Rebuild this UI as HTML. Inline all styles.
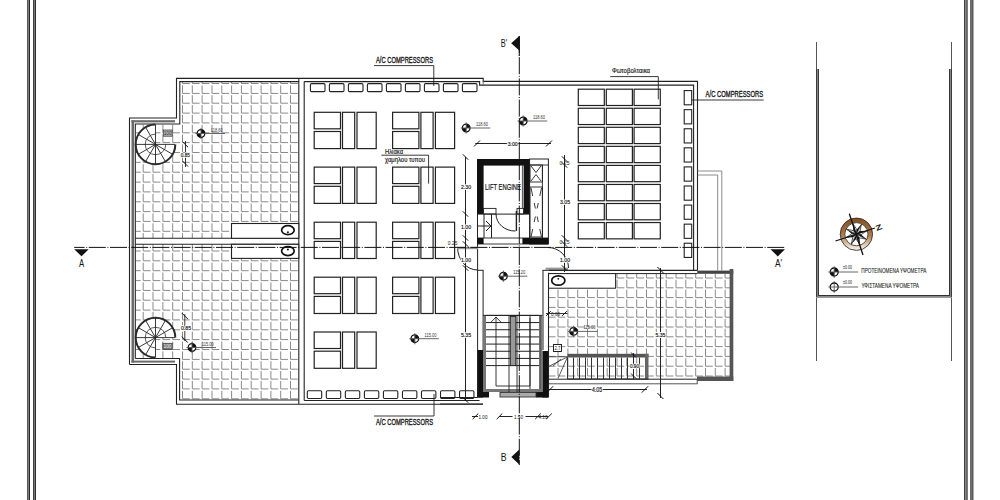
<!DOCTYPE html>
<html><head><meta charset="utf-8"><title>Floor plan</title>
<style>html,body{margin:0;padding:0;background:#fff;width:1000px;height:500px;overflow:hidden}
svg{display:block;font-family:"Liberation Sans",sans-serif}</style></head>
<body><svg width="1000" height="500" viewBox="0 0 1000 500">
<rect x="27" y="0" width="1" height="500" fill="#555"/>
<rect x="28" y="0" width="1" height="500" fill="#808080"/>
<rect x="29" y="0" width="1" height="500" fill="#2a2a2a"/>
<rect x="33" y="0" width="1" height="500" fill="#404040"/>
<rect x="34" y="0" width="1" height="500" fill="#787878"/>
<rect x="35" y="0" width="1" height="500" fill="#2e2e2e"/>
<rect x="964" y="0" width="1" height="500" fill="#3a3a3a"/>
<rect x="965" y="0" width="1" height="500" fill="#888"/>
<rect x="966" y="0" width="1" height="500" fill="#666"/>
<rect x="967" y="0" width="1" height="500" fill="#7a7a7a"/>
<rect x="970" y="0" width="1" height="500" fill="#6a6a6a"/>
<rect x="971" y="0" width="1" height="500" fill="#707070"/>
<rect x="972" y="0" width="1" height="500" fill="#5c5c5c"/>
<rect x="973" y="0" width="1" height="500" fill="#aaa"/>
<defs><clipPath id="tl"><path d="M136,124H180V82H298.5V238H136Z M136,244H298.5V400H180V358H136Z"/></clipPath><clipPath id="tr"><path d="M549,274H730V378H549Z"/></clipPath></defs>
<path d="M133.4,75.5V83.5H140.7M133.4,85.4V93.4H140.7M133.4,95.2V103.2H140.7M133.4,105.1V113.1H140.7M133.4,114.9V122.9H140.7M133.4,124.8V132.8H140.7M133.4,134.6V142.6H140.7M133.4,144.5V152.5H140.7M133.4,154.3V162.3H140.7M133.4,164.2V172.2H140.7M133.4,174.1V182.1H140.7M133.4,183.9V191.9H140.7M133.4,193.8V201.8H140.7M133.4,203.6V211.6H140.7M133.4,213.4V221.4H140.7M133.4,223.3V231.3H140.7M133.4,233.1V241.1H140.7M133.4,243.0V251.0H140.7M133.4,252.8V260.8H140.7M133.4,262.7V270.7H140.7M133.4,272.6V280.6H140.7M133.4,282.4V290.4H140.7M133.4,292.2V300.2H140.7M133.4,302.1V310.1H140.7M133.4,311.9V319.9H140.7M133.4,321.8V329.8H140.7M133.4,331.6V339.6H140.7M133.4,341.5V349.5H140.7M133.4,351.4V359.4H140.7M133.4,361.2V369.2H140.7M133.4,371.1V379.1H140.7M133.4,380.9V388.9H140.7M133.4,390.8V398.8H140.7M143.2,75.5V83.5H150.5M143.2,85.4V93.4H150.5M143.2,95.2V103.2H150.5M143.2,105.1V113.1H150.5M143.2,114.9V122.9H150.5M143.2,124.8V132.8H150.5M143.2,134.6V142.6H150.5M143.2,144.5V152.5H150.5M143.2,154.3V162.3H150.5M143.2,164.2V172.2H150.5M143.2,174.1V182.1H150.5M143.2,183.9V191.9H150.5M143.2,193.8V201.8H150.5M143.2,203.6V211.6H150.5M143.2,213.4V221.4H150.5M143.2,223.3V231.3H150.5M143.2,233.1V241.1H150.5M143.2,243.0V251.0H150.5M143.2,252.8V260.8H150.5M143.2,262.7V270.7H150.5M143.2,272.6V280.6H150.5M143.2,282.4V290.4H150.5M143.2,292.2V300.2H150.5M143.2,302.1V310.1H150.5M143.2,311.9V319.9H150.5M143.2,321.8V329.8H150.5M143.2,331.6V339.6H150.5M143.2,341.5V349.5H150.5M143.2,351.4V359.4H150.5M143.2,361.2V369.2H150.5M143.2,371.1V379.1H150.5M143.2,380.9V388.9H150.5M143.2,390.8V398.8H150.5M153.0,75.5V83.5H160.3M153.0,85.4V93.4H160.3M153.0,95.2V103.2H160.3M153.0,105.1V113.1H160.3M153.0,114.9V122.9H160.3M153.0,124.8V132.8H160.3M153.0,134.6V142.6H160.3M153.0,144.5V152.5H160.3M153.0,154.3V162.3H160.3M153.0,164.2V172.2H160.3M153.0,174.1V182.1H160.3M153.0,183.9V191.9H160.3M153.0,193.8V201.8H160.3M153.0,203.6V211.6H160.3M153.0,213.4V221.4H160.3M153.0,223.3V231.3H160.3M153.0,233.1V241.1H160.3M153.0,243.0V251.0H160.3M153.0,252.8V260.8H160.3M153.0,262.7V270.7H160.3M153.0,272.6V280.6H160.3M153.0,282.4V290.4H160.3M153.0,292.2V300.2H160.3M153.0,302.1V310.1H160.3M153.0,311.9V319.9H160.3M153.0,321.8V329.8H160.3M153.0,331.6V339.6H160.3M153.0,341.5V349.5H160.3M153.0,351.4V359.4H160.3M153.0,361.2V369.2H160.3M153.0,371.1V379.1H160.3M153.0,380.9V388.9H160.3M153.0,390.8V398.8H160.3M162.9,75.5V83.5H170.2M162.9,85.4V93.4H170.2M162.9,95.2V103.2H170.2M162.9,105.1V113.1H170.2M162.9,114.9V122.9H170.2M162.9,124.8V132.8H170.2M162.9,134.6V142.6H170.2M162.9,144.5V152.5H170.2M162.9,154.3V162.3H170.2M162.9,164.2V172.2H170.2M162.9,174.1V182.1H170.2M162.9,183.9V191.9H170.2M162.9,193.8V201.8H170.2M162.9,203.6V211.6H170.2M162.9,213.4V221.4H170.2M162.9,223.3V231.3H170.2M162.9,233.1V241.1H170.2M162.9,243.0V251.0H170.2M162.9,252.8V260.8H170.2M162.9,262.7V270.7H170.2M162.9,272.6V280.6H170.2M162.9,282.4V290.4H170.2M162.9,292.2V300.2H170.2M162.9,302.1V310.1H170.2M162.9,311.9V319.9H170.2M162.9,321.8V329.8H170.2M162.9,331.6V339.6H170.2M162.9,341.5V349.5H170.2M162.9,351.4V359.4H170.2M162.9,361.2V369.2H170.2M162.9,371.1V379.1H170.2M162.9,380.9V388.9H170.2M162.9,390.8V398.8H170.2M172.7,75.5V83.5H180.0M172.7,85.4V93.4H180.0M172.7,95.2V103.2H180.0M172.7,105.1V113.1H180.0M172.7,114.9V122.9H180.0M172.7,124.8V132.8H180.0M172.7,134.6V142.6H180.0M172.7,144.5V152.5H180.0M172.7,154.3V162.3H180.0M172.7,164.2V172.2H180.0M172.7,174.1V182.1H180.0M172.7,183.9V191.9H180.0M172.7,193.8V201.8H180.0M172.7,203.6V211.6H180.0M172.7,213.4V221.4H180.0M172.7,223.3V231.3H180.0M172.7,233.1V241.1H180.0M172.7,243.0V251.0H180.0M172.7,252.8V260.8H180.0M172.7,262.7V270.7H180.0M172.7,272.6V280.6H180.0M172.7,282.4V290.4H180.0M172.7,292.2V300.2H180.0M172.7,302.1V310.1H180.0M172.7,311.9V319.9H180.0M172.7,321.8V329.8H180.0M172.7,331.6V339.6H180.0M172.7,341.5V349.5H180.0M172.7,351.4V359.4H180.0M172.7,361.2V369.2H180.0M172.7,371.1V379.1H180.0M172.7,380.9V388.9H180.0M172.7,390.8V398.8H180.0M182.5,75.5V83.5H189.8M182.5,85.4V93.4H189.8M182.5,95.2V103.2H189.8M182.5,105.1V113.1H189.8M182.5,114.9V122.9H189.8M182.5,124.8V132.8H189.8M182.5,134.6V142.6H189.8M182.5,144.5V152.5H189.8M182.5,154.3V162.3H189.8M182.5,164.2V172.2H189.8M182.5,174.1V182.1H189.8M182.5,183.9V191.9H189.8M182.5,193.8V201.8H189.8M182.5,203.6V211.6H189.8M182.5,213.4V221.4H189.8M182.5,223.3V231.3H189.8M182.5,233.1V241.1H189.8M182.5,243.0V251.0H189.8M182.5,252.8V260.8H189.8M182.5,262.7V270.7H189.8M182.5,272.6V280.6H189.8M182.5,282.4V290.4H189.8M182.5,292.2V300.2H189.8M182.5,302.1V310.1H189.8M182.5,311.9V319.9H189.8M182.5,321.8V329.8H189.8M182.5,331.6V339.6H189.8M182.5,341.5V349.5H189.8M182.5,351.4V359.4H189.8M182.5,361.2V369.2H189.8M182.5,371.1V379.1H189.8M182.5,380.9V388.9H189.8M182.5,390.8V398.8H189.8M192.3,75.5V83.5H199.6M192.3,85.4V93.4H199.6M192.3,95.2V103.2H199.6M192.3,105.1V113.1H199.6M192.3,114.9V122.9H199.6M192.3,124.8V132.8H199.6M192.3,134.6V142.6H199.6M192.3,144.5V152.5H199.6M192.3,154.3V162.3H199.6M192.3,164.2V172.2H199.6M192.3,174.1V182.1H199.6M192.3,183.9V191.9H199.6M192.3,193.8V201.8H199.6M192.3,203.6V211.6H199.6M192.3,213.4V221.4H199.6M192.3,223.3V231.3H199.6M192.3,233.1V241.1H199.6M192.3,243.0V251.0H199.6M192.3,252.8V260.8H199.6M192.3,262.7V270.7H199.6M192.3,272.6V280.6H199.6M192.3,282.4V290.4H199.6M192.3,292.2V300.2H199.6M192.3,302.1V310.1H199.6M192.3,311.9V319.9H199.6M192.3,321.8V329.8H199.6M192.3,331.6V339.6H199.6M192.3,341.5V349.5H199.6M192.3,351.4V359.4H199.6M192.3,361.2V369.2H199.6M192.3,371.1V379.1H199.6M192.3,380.9V388.9H199.6M192.3,390.8V398.8H199.6M202.1,75.5V83.5H209.4M202.1,85.4V93.4H209.4M202.1,95.2V103.2H209.4M202.1,105.1V113.1H209.4M202.1,114.9V122.9H209.4M202.1,124.8V132.8H209.4M202.1,134.6V142.6H209.4M202.1,144.5V152.5H209.4M202.1,154.3V162.3H209.4M202.1,164.2V172.2H209.4M202.1,174.1V182.1H209.4M202.1,183.9V191.9H209.4M202.1,193.8V201.8H209.4M202.1,203.6V211.6H209.4M202.1,213.4V221.4H209.4M202.1,223.3V231.3H209.4M202.1,233.1V241.1H209.4M202.1,243.0V251.0H209.4M202.1,252.8V260.8H209.4M202.1,262.7V270.7H209.4M202.1,272.6V280.6H209.4M202.1,282.4V290.4H209.4M202.1,292.2V300.2H209.4M202.1,302.1V310.1H209.4M202.1,311.9V319.9H209.4M202.1,321.8V329.8H209.4M202.1,331.6V339.6H209.4M202.1,341.5V349.5H209.4M202.1,351.4V359.4H209.4M202.1,361.2V369.2H209.4M202.1,371.1V379.1H209.4M202.1,380.9V388.9H209.4M202.1,390.8V398.8H209.4M212.0,75.5V83.5H219.3M212.0,85.4V93.4H219.3M212.0,95.2V103.2H219.3M212.0,105.1V113.1H219.3M212.0,114.9V122.9H219.3M212.0,124.8V132.8H219.3M212.0,134.6V142.6H219.3M212.0,144.5V152.5H219.3M212.0,154.3V162.3H219.3M212.0,164.2V172.2H219.3M212.0,174.1V182.1H219.3M212.0,183.9V191.9H219.3M212.0,193.8V201.8H219.3M212.0,203.6V211.6H219.3M212.0,213.4V221.4H219.3M212.0,223.3V231.3H219.3M212.0,233.1V241.1H219.3M212.0,243.0V251.0H219.3M212.0,252.8V260.8H219.3M212.0,262.7V270.7H219.3M212.0,272.6V280.6H219.3M212.0,282.4V290.4H219.3M212.0,292.2V300.2H219.3M212.0,302.1V310.1H219.3M212.0,311.9V319.9H219.3M212.0,321.8V329.8H219.3M212.0,331.6V339.6H219.3M212.0,341.5V349.5H219.3M212.0,351.4V359.4H219.3M212.0,361.2V369.2H219.3M212.0,371.1V379.1H219.3M212.0,380.9V388.9H219.3M212.0,390.8V398.8H219.3M221.8,75.5V83.5H229.1M221.8,85.4V93.4H229.1M221.8,95.2V103.2H229.1M221.8,105.1V113.1H229.1M221.8,114.9V122.9H229.1M221.8,124.8V132.8H229.1M221.8,134.6V142.6H229.1M221.8,144.5V152.5H229.1M221.8,154.3V162.3H229.1M221.8,164.2V172.2H229.1M221.8,174.1V182.1H229.1M221.8,183.9V191.9H229.1M221.8,193.8V201.8H229.1M221.8,203.6V211.6H229.1M221.8,213.4V221.4H229.1M221.8,223.3V231.3H229.1M221.8,233.1V241.1H229.1M221.8,243.0V251.0H229.1M221.8,252.8V260.8H229.1M221.8,262.7V270.7H229.1M221.8,272.6V280.6H229.1M221.8,282.4V290.4H229.1M221.8,292.2V300.2H229.1M221.8,302.1V310.1H229.1M221.8,311.9V319.9H229.1M221.8,321.8V329.8H229.1M221.8,331.6V339.6H229.1M221.8,341.5V349.5H229.1M221.8,351.4V359.4H229.1M221.8,361.2V369.2H229.1M221.8,371.1V379.1H229.1M221.8,380.9V388.9H229.1M221.8,390.8V398.8H229.1M231.6,75.5V83.5H238.9M231.6,85.4V93.4H238.9M231.6,95.2V103.2H238.9M231.6,105.1V113.1H238.9M231.6,114.9V122.9H238.9M231.6,124.8V132.8H238.9M231.6,134.6V142.6H238.9M231.6,144.5V152.5H238.9M231.6,154.3V162.3H238.9M231.6,164.2V172.2H238.9M231.6,174.1V182.1H238.9M231.6,183.9V191.9H238.9M231.6,193.8V201.8H238.9M231.6,203.6V211.6H238.9M231.6,213.4V221.4H238.9M231.6,223.3V231.3H238.9M231.6,233.1V241.1H238.9M231.6,243.0V251.0H238.9M231.6,252.8V260.8H238.9M231.6,262.7V270.7H238.9M231.6,272.6V280.6H238.9M231.6,282.4V290.4H238.9M231.6,292.2V300.2H238.9M231.6,302.1V310.1H238.9M231.6,311.9V319.9H238.9M231.6,321.8V329.8H238.9M231.6,331.6V339.6H238.9M231.6,341.5V349.5H238.9M231.6,351.4V359.4H238.9M231.6,361.2V369.2H238.9M231.6,371.1V379.1H238.9M231.6,380.9V388.9H238.9M231.6,390.8V398.8H238.9M241.4,75.5V83.5H248.7M241.4,85.4V93.4H248.7M241.4,95.2V103.2H248.7M241.4,105.1V113.1H248.7M241.4,114.9V122.9H248.7M241.4,124.8V132.8H248.7M241.4,134.6V142.6H248.7M241.4,144.5V152.5H248.7M241.4,154.3V162.3H248.7M241.4,164.2V172.2H248.7M241.4,174.1V182.1H248.7M241.4,183.9V191.9H248.7M241.4,193.8V201.8H248.7M241.4,203.6V211.6H248.7M241.4,213.4V221.4H248.7M241.4,223.3V231.3H248.7M241.4,233.1V241.1H248.7M241.4,243.0V251.0H248.7M241.4,252.8V260.8H248.7M241.4,262.7V270.7H248.7M241.4,272.6V280.6H248.7M241.4,282.4V290.4H248.7M241.4,292.2V300.2H248.7M241.4,302.1V310.1H248.7M241.4,311.9V319.9H248.7M241.4,321.8V329.8H248.7M241.4,331.6V339.6H248.7M241.4,341.5V349.5H248.7M241.4,351.4V359.4H248.7M241.4,361.2V369.2H248.7M241.4,371.1V379.1H248.7M241.4,380.9V388.9H248.7M241.4,390.8V398.8H248.7M251.2,75.5V83.5H258.5M251.2,85.4V93.4H258.5M251.2,95.2V103.2H258.5M251.2,105.1V113.1H258.5M251.2,114.9V122.9H258.5M251.2,124.8V132.8H258.5M251.2,134.6V142.6H258.5M251.2,144.5V152.5H258.5M251.2,154.3V162.3H258.5M251.2,164.2V172.2H258.5M251.2,174.1V182.1H258.5M251.2,183.9V191.9H258.5M251.2,193.8V201.8H258.5M251.2,203.6V211.6H258.5M251.2,213.4V221.4H258.5M251.2,223.3V231.3H258.5M251.2,233.1V241.1H258.5M251.2,243.0V251.0H258.5M251.2,252.8V260.8H258.5M251.2,262.7V270.7H258.5M251.2,272.6V280.6H258.5M251.2,282.4V290.4H258.5M251.2,292.2V300.2H258.5M251.2,302.1V310.1H258.5M251.2,311.9V319.9H258.5M251.2,321.8V329.8H258.5M251.2,331.6V339.6H258.5M251.2,341.5V349.5H258.5M251.2,351.4V359.4H258.5M251.2,361.2V369.2H258.5M251.2,371.1V379.1H258.5M251.2,380.9V388.9H258.5M251.2,390.8V398.8H258.5M261.1,75.5V83.5H268.4M261.1,85.4V93.4H268.4M261.1,95.2V103.2H268.4M261.1,105.1V113.1H268.4M261.1,114.9V122.9H268.4M261.1,124.8V132.8H268.4M261.1,134.6V142.6H268.4M261.1,144.5V152.5H268.4M261.1,154.3V162.3H268.4M261.1,164.2V172.2H268.4M261.1,174.1V182.1H268.4M261.1,183.9V191.9H268.4M261.1,193.8V201.8H268.4M261.1,203.6V211.6H268.4M261.1,213.4V221.4H268.4M261.1,223.3V231.3H268.4M261.1,233.1V241.1H268.4M261.1,243.0V251.0H268.4M261.1,252.8V260.8H268.4M261.1,262.7V270.7H268.4M261.1,272.6V280.6H268.4M261.1,282.4V290.4H268.4M261.1,292.2V300.2H268.4M261.1,302.1V310.1H268.4M261.1,311.9V319.9H268.4M261.1,321.8V329.8H268.4M261.1,331.6V339.6H268.4M261.1,341.5V349.5H268.4M261.1,351.4V359.4H268.4M261.1,361.2V369.2H268.4M261.1,371.1V379.1H268.4M261.1,380.9V388.9H268.4M261.1,390.8V398.8H268.4M270.9,75.5V83.5H278.2M270.9,85.4V93.4H278.2M270.9,95.2V103.2H278.2M270.9,105.1V113.1H278.2M270.9,114.9V122.9H278.2M270.9,124.8V132.8H278.2M270.9,134.6V142.6H278.2M270.9,144.5V152.5H278.2M270.9,154.3V162.3H278.2M270.9,164.2V172.2H278.2M270.9,174.1V182.1H278.2M270.9,183.9V191.9H278.2M270.9,193.8V201.8H278.2M270.9,203.6V211.6H278.2M270.9,213.4V221.4H278.2M270.9,223.3V231.3H278.2M270.9,233.1V241.1H278.2M270.9,243.0V251.0H278.2M270.9,252.8V260.8H278.2M270.9,262.7V270.7H278.2M270.9,272.6V280.6H278.2M270.9,282.4V290.4H278.2M270.9,292.2V300.2H278.2M270.9,302.1V310.1H278.2M270.9,311.9V319.9H278.2M270.9,321.8V329.8H278.2M270.9,331.6V339.6H278.2M270.9,341.5V349.5H278.2M270.9,351.4V359.4H278.2M270.9,361.2V369.2H278.2M270.9,371.1V379.1H278.2M270.9,380.9V388.9H278.2M270.9,390.8V398.8H278.2M280.7,75.5V83.5H288.0M280.7,85.4V93.4H288.0M280.7,95.2V103.2H288.0M280.7,105.1V113.1H288.0M280.7,114.9V122.9H288.0M280.7,124.8V132.8H288.0M280.7,134.6V142.6H288.0M280.7,144.5V152.5H288.0M280.7,154.3V162.3H288.0M280.7,164.2V172.2H288.0M280.7,174.1V182.1H288.0M280.7,183.9V191.9H288.0M280.7,193.8V201.8H288.0M280.7,203.6V211.6H288.0M280.7,213.4V221.4H288.0M280.7,223.3V231.3H288.0M280.7,233.1V241.1H288.0M280.7,243.0V251.0H288.0M280.7,252.8V260.8H288.0M280.7,262.7V270.7H288.0M280.7,272.6V280.6H288.0M280.7,282.4V290.4H288.0M280.7,292.2V300.2H288.0M280.7,302.1V310.1H288.0M280.7,311.9V319.9H288.0M280.7,321.8V329.8H288.0M280.7,331.6V339.6H288.0M280.7,341.5V349.5H288.0M280.7,351.4V359.4H288.0M280.7,361.2V369.2H288.0M280.7,371.1V379.1H288.0M280.7,380.9V388.9H288.0M280.7,390.8V398.8H288.0M290.5,75.5V83.5H297.8M290.5,85.4V93.4H297.8M290.5,95.2V103.2H297.8M290.5,105.1V113.1H297.8M290.5,114.9V122.9H297.8M290.5,124.8V132.8H297.8M290.5,134.6V142.6H297.8M290.5,144.5V152.5H297.8M290.5,154.3V162.3H297.8M290.5,164.2V172.2H297.8M290.5,174.1V182.1H297.8M290.5,183.9V191.9H297.8M290.5,193.8V201.8H297.8M290.5,203.6V211.6H297.8M290.5,213.4V221.4H297.8M290.5,223.3V231.3H297.8M290.5,233.1V241.1H297.8M290.5,243.0V251.0H297.8M290.5,252.8V260.8H297.8M290.5,262.7V270.7H297.8M290.5,272.6V280.6H297.8M290.5,282.4V290.4H297.8M290.5,292.2V300.2H297.8M290.5,302.1V310.1H297.8M290.5,311.9V319.9H297.8M290.5,321.8V329.8H297.8M290.5,331.6V339.6H297.8M290.5,341.5V349.5H297.8M290.5,351.4V359.4H297.8M290.5,361.2V369.2H297.8M290.5,371.1V379.1H297.8M290.5,380.9V388.9H297.8M290.5,390.8V398.8H297.8" stroke="#8a8a8a" stroke-width="1" fill="none" clip-path="url(#tl)"/>
<path d="M548.2,270.0V278.0H555.5M548.2,279.8V287.8H555.5M548.2,289.6V297.6H555.5M548.2,299.4V307.4H555.5M548.2,309.2V317.2H555.5M548.2,319.0V327.0H555.5M548.2,328.8V336.8H555.5M548.2,338.6V346.6H555.5M548.2,348.4V356.4H555.5M548.2,358.2V366.2H555.5M548.2,368.0V376.0H555.5M548.2,377.8V385.8H555.5M558.0,270.0V278.0H565.3M558.0,279.8V287.8H565.3M558.0,289.6V297.6H565.3M558.0,299.4V307.4H565.3M558.0,309.2V317.2H565.3M558.0,319.0V327.0H565.3M558.0,328.8V336.8H565.3M558.0,338.6V346.6H565.3M558.0,348.4V356.4H565.3M558.0,358.2V366.2H565.3M558.0,368.0V376.0H565.3M558.0,377.8V385.8H565.3M567.9,270.0V278.0H575.2M567.9,279.8V287.8H575.2M567.9,289.6V297.6H575.2M567.9,299.4V307.4H575.2M567.9,309.2V317.2H575.2M567.9,319.0V327.0H575.2M567.9,328.8V336.8H575.2M567.9,338.6V346.6H575.2M567.9,348.4V356.4H575.2M567.9,358.2V366.2H575.2M567.9,368.0V376.0H575.2M567.9,377.8V385.8H575.2M577.7,270.0V278.0H585.0M577.7,279.8V287.8H585.0M577.7,289.6V297.6H585.0M577.7,299.4V307.4H585.0M577.7,309.2V317.2H585.0M577.7,319.0V327.0H585.0M577.7,328.8V336.8H585.0M577.7,338.6V346.6H585.0M577.7,348.4V356.4H585.0M577.7,358.2V366.2H585.0M577.7,368.0V376.0H585.0M577.7,377.8V385.8H585.0M587.5,270.0V278.0H594.8M587.5,279.8V287.8H594.8M587.5,289.6V297.6H594.8M587.5,299.4V307.4H594.8M587.5,309.2V317.2H594.8M587.5,319.0V327.0H594.8M587.5,328.8V336.8H594.8M587.5,338.6V346.6H594.8M587.5,348.4V356.4H594.8M587.5,358.2V366.2H594.8M587.5,368.0V376.0H594.8M587.5,377.8V385.8H594.8M597.4,270.0V278.0H604.6M597.4,279.8V287.8H604.6M597.4,289.6V297.6H604.6M597.4,299.4V307.4H604.6M597.4,309.2V317.2H604.6M597.4,319.0V327.0H604.6M597.4,328.8V336.8H604.6M597.4,338.6V346.6H604.6M597.4,348.4V356.4H604.6M597.4,358.2V366.2H604.6M597.4,368.0V376.0H604.6M597.4,377.8V385.8H604.6M607.2,270.0V278.0H614.5M607.2,279.8V287.8H614.5M607.2,289.6V297.6H614.5M607.2,299.4V307.4H614.5M607.2,309.2V317.2H614.5M607.2,319.0V327.0H614.5M607.2,328.8V336.8H614.5M607.2,338.6V346.6H614.5M607.2,348.4V356.4H614.5M607.2,358.2V366.2H614.5M607.2,368.0V376.0H614.5M607.2,377.8V385.8H614.5M617.0,270.0V278.0H624.3M617.0,279.8V287.8H624.3M617.0,289.6V297.6H624.3M617.0,299.4V307.4H624.3M617.0,309.2V317.2H624.3M617.0,319.0V327.0H624.3M617.0,328.8V336.8H624.3M617.0,338.6V346.6H624.3M617.0,348.4V356.4H624.3M617.0,358.2V366.2H624.3M617.0,368.0V376.0H624.3M617.0,377.8V385.8H624.3M626.8,270.0V278.0H634.1M626.8,279.8V287.8H634.1M626.8,289.6V297.6H634.1M626.8,299.4V307.4H634.1M626.8,309.2V317.2H634.1M626.8,319.0V327.0H634.1M626.8,328.8V336.8H634.1M626.8,338.6V346.6H634.1M626.8,348.4V356.4H634.1M626.8,358.2V366.2H634.1M626.8,368.0V376.0H634.1M626.8,377.8V385.8H634.1M636.7,270.0V278.0H644.0M636.7,279.8V287.8H644.0M636.7,289.6V297.6H644.0M636.7,299.4V307.4H644.0M636.7,309.2V317.2H644.0M636.7,319.0V327.0H644.0M636.7,328.8V336.8H644.0M636.7,338.6V346.6H644.0M636.7,348.4V356.4H644.0M636.7,358.2V366.2H644.0M636.7,368.0V376.0H644.0M636.7,377.8V385.8H644.0M646.5,270.0V278.0H653.8M646.5,279.8V287.8H653.8M646.5,289.6V297.6H653.8M646.5,299.4V307.4H653.8M646.5,309.2V317.2H653.8M646.5,319.0V327.0H653.8M646.5,328.8V336.8H653.8M646.5,338.6V346.6H653.8M646.5,348.4V356.4H653.8M646.5,358.2V366.2H653.8M646.5,368.0V376.0H653.8M646.5,377.8V385.8H653.8M656.3,270.0V278.0H663.6M656.3,279.8V287.8H663.6M656.3,289.6V297.6H663.6M656.3,299.4V307.4H663.6M656.3,309.2V317.2H663.6M656.3,319.0V327.0H663.6M656.3,328.8V336.8H663.6M656.3,338.6V346.6H663.6M656.3,348.4V356.4H663.6M656.3,358.2V366.2H663.6M656.3,368.0V376.0H663.6M656.3,377.8V385.8H663.6M666.2,270.0V278.0H673.5M666.2,279.8V287.8H673.5M666.2,289.6V297.6H673.5M666.2,299.4V307.4H673.5M666.2,309.2V317.2H673.5M666.2,319.0V327.0H673.5M666.2,328.8V336.8H673.5M666.2,338.6V346.6H673.5M666.2,348.4V356.4H673.5M666.2,358.2V366.2H673.5M666.2,368.0V376.0H673.5M666.2,377.8V385.8H673.5M676.0,270.0V278.0H683.3M676.0,279.8V287.8H683.3M676.0,289.6V297.6H683.3M676.0,299.4V307.4H683.3M676.0,309.2V317.2H683.3M676.0,319.0V327.0H683.3M676.0,328.8V336.8H683.3M676.0,338.6V346.6H683.3M676.0,348.4V356.4H683.3M676.0,358.2V366.2H683.3M676.0,368.0V376.0H683.3M676.0,377.8V385.8H683.3M685.8,270.0V278.0H693.1M685.8,279.8V287.8H693.1M685.8,289.6V297.6H693.1M685.8,299.4V307.4H693.1M685.8,309.2V317.2H693.1M685.8,319.0V327.0H693.1M685.8,328.8V336.8H693.1M685.8,338.6V346.6H693.1M685.8,348.4V356.4H693.1M685.8,358.2V366.2H693.1M685.8,368.0V376.0H693.1M685.8,377.8V385.8H693.1M695.7,270.0V278.0H703.0M695.7,279.8V287.8H703.0M695.7,289.6V297.6H703.0M695.7,299.4V307.4H703.0M695.7,309.2V317.2H703.0M695.7,319.0V327.0H703.0M695.7,328.8V336.8H703.0M695.7,338.6V346.6H703.0M695.7,348.4V356.4H703.0M695.7,358.2V366.2H703.0M695.7,368.0V376.0H703.0M695.7,377.8V385.8H703.0M705.5,270.0V278.0H712.8M705.5,279.8V287.8H712.8M705.5,289.6V297.6H712.8M705.5,299.4V307.4H712.8M705.5,309.2V317.2H712.8M705.5,319.0V327.0H712.8M705.5,328.8V336.8H712.8M705.5,338.6V346.6H712.8M705.5,348.4V356.4H712.8M705.5,358.2V366.2H712.8M705.5,368.0V376.0H712.8M705.5,377.8V385.8H712.8M715.3,270.0V278.0H722.6M715.3,279.8V287.8H722.6M715.3,289.6V297.6H722.6M715.3,299.4V307.4H722.6M715.3,309.2V317.2H722.6M715.3,319.0V327.0H722.6M715.3,328.8V336.8H722.6M715.3,338.6V346.6H722.6M715.3,348.4V356.4H722.6M715.3,358.2V366.2H722.6M715.3,368.0V376.0H722.6M715.3,377.8V385.8H722.6M725.1,270.0V278.0H732.4M725.1,279.8V287.8H732.4M725.1,289.6V297.6H732.4M725.1,299.4V307.4H732.4M725.1,309.2V317.2H732.4M725.1,319.0V327.0H732.4M725.1,328.8V336.8H732.4M725.1,338.6V346.6H732.4M725.1,348.4V356.4H732.4M725.1,358.2V366.2H732.4M725.1,368.0V376.0H732.4M725.1,377.8V385.8H732.4M735.0,270.0V278.0H742.3M735.0,279.8V287.8H742.3M735.0,289.6V297.6H742.3M735.0,299.4V307.4H742.3M735.0,309.2V317.2H742.3M735.0,319.0V327.0H742.3M735.0,328.8V336.8H742.3M735.0,338.6V346.6H742.3M735.0,348.4V356.4H742.3M735.0,358.2V366.2H742.3M735.0,368.0V376.0H742.3M735.0,377.8V385.8H742.3" stroke="#8a8a8a" stroke-width="1" fill="none" clip-path="url(#tr)"/>
<polyline points="129.5,364.5 129.5,118 176.5,118 176.5,78.4 483.2,78.4 483.2,81.4 697.5,81.4 697.5,270.6" stroke="#222" stroke-width="1.1" fill="none" />
<polyline points="129.5,364.5 176.5,364.5 176.5,404.3 483,404.3" stroke="#222" stroke-width="1.1" fill="none" />
<polyline points="135.3,358.5 135.3,124 179.8,124 179.8,81.6 298.8,81.6" stroke="#222" stroke-width="1.1" fill="none" />
<polyline points="304.2,81.6 479.6,81.6 479.6,85.1 693.6,85.1 693.6,270.4" stroke="#222" stroke-width="1.1" fill="none" />
<line x1="483.2" y1="81.4" x2="483.2" y2="85.2" stroke="#777" stroke-width="1" />
<polyline points="135.3,358.5 179.6,358.5 179.6,400 298.8,400" stroke="#222" stroke-width="1.1" fill="none" />
<line x1="304.2" y1="400.5" x2="479.5" y2="400.5" stroke="#222" stroke-width="1.1" />
<rect x="131.5" y="120.2" width="2.5" height="242.4" fill="#6a6a6a"/>
<rect x="131.5" y="120.2" width="43.5" height="2.2" fill="#6a6a6a"/>
<rect x="131.5" y="360.6" width="43.5" height="2.0" fill="#6a6a6a"/>
<line x1="298.8" y1="78.5" x2="298.8" y2="404" stroke="#222" stroke-width="1.1" />
<line x1="304.2" y1="81.6" x2="304.2" y2="400.5" stroke="#222" stroke-width="1.1" />
<line x1="135.3" y1="238.3" x2="298.8" y2="238.3" stroke="#222" stroke-width="1.1" />
<line x1="135.3" y1="244.3" x2="298.8" y2="244.3" stroke="#222" stroke-width="1.1" />
<rect x="136" y="239" width="162" height="4" fill="#fff"/>
<rect x="231.5" y="223.5" width="67.3" height="14.8" rx="0" stroke="#222" stroke-width="1.1" fill="#fff" />
<rect x="231.5" y="244.3" width="67.3" height="14.1" rx="0" stroke="#222" stroke-width="1.1" fill="#fff" />
<ellipse cx="287.9" cy="230.2" rx="6.3" ry="4.5" stroke="#111" stroke-width="1.7" fill="#fff"/>
<circle cx="287.9" cy="232.2" r="1" fill="#111"/>
<ellipse cx="287.9" cy="251.1" rx="6.3" ry="4.5" stroke="#111" stroke-width="1.7" fill="#fff"/>
<circle cx="287.9" cy="249.5" r="1" fill="#111"/>
<path d="M155.50,144.40L175.30,144.40A19.8,19.8 0 1 1 155.50,124.60Z" stroke="none" fill="#fff"/>
<path d="M175.30,144.40A19.8,19.8 0 1 1 155.50,124.60" stroke="#2a2a2a" stroke-width="2" fill="none"/>
<path d="M165.80,144.40A10.296000000000001,10.296000000000001 0 1 1 155.50,134.10" stroke="#333" stroke-width="0.8" fill="none"/>
<path d="M155.50,144.40L155.50,124.60M155.50,144.40L145.60,127.25M155.50,144.40L138.35,134.50M155.50,144.40L135.70,144.40M155.50,144.40L138.35,154.30M155.50,144.40L145.60,161.55M155.50,144.40L155.50,164.20M155.50,144.40L165.40,161.55M155.50,144.40L172.65,154.30M155.50,144.40L175.30,144.40" stroke="#222" stroke-width="0.9"/>
<path d="M155.50,337.60L175.30,337.60A19.8,19.8 0 1 0 155.50,357.40Z" stroke="none" fill="#fff"/>
<path d="M175.30,337.60A19.8,19.8 0 1 0 155.50,357.40" stroke="#2a2a2a" stroke-width="2" fill="none"/>
<path d="M165.80,337.60A10.296000000000001,10.296000000000001 0 1 0 155.50,347.90" stroke="#333" stroke-width="0.8" fill="none"/>
<path d="M155.50,337.60L155.50,357.40M155.50,337.60L145.60,354.75M155.50,337.60L138.35,347.50M155.50,337.60L135.70,337.60M155.50,337.60L138.35,327.70M155.50,337.60L145.60,320.45M155.50,337.60L155.50,317.80M155.50,337.60L165.40,320.45M155.50,337.60L172.65,327.70M155.50,337.60L175.30,337.60" stroke="#222" stroke-width="0.9"/>
<rect x="163.3" y="130" width="8.9" height="6.2" rx="0" stroke="#444" stroke-width="0.8" fill="#bbb" />
<text x="167.7" y="135.2" font-size="5.5" text-anchor="middle" fill="#222" textLength="8" lengthAdjust="spacingAndGlyphs" >100</text>
<rect x="162.8" y="343.3" width="9.4" height="6.2" rx="0" stroke="#444" stroke-width="0.8" fill="#777" />
<text x="167.5" y="348.4" font-size="5.5" text-anchor="middle" fill="#eee" textLength="8" lengthAdjust="spacingAndGlyphs" >100</text>
<g><circle cx="201" cy="133.5" r="3.8" stroke="#111" stroke-width="1.3" fill="#fff"/>
<path d="M201,133.5V129.7A3.8,3.8 0 0 1 204.8,133.5Z M201,133.5V137.3A3.8,3.8 0 0 1 197.2,133.5Z" fill="#111"/>
<path d="M195.39999999999998,133.5H225M201,127.89999999999999V139.10000000000002" stroke="#555" stroke-width="0.9"/></g>
<text x="210.8" y="131.5" font-size="5" text-anchor="start" fill="#333" textLength="12" lengthAdjust="spacingAndGlyphs" >118.60</text>
<g><circle cx="466.2" cy="128" r="3.8" stroke="#111" stroke-width="1.3" fill="#fff"/>
<path d="M466.2,128V124.2A3.8,3.8 0 0 1 470.0,128Z M466.2,128V131.8A3.8,3.8 0 0 1 462.4,128Z" fill="#111"/>
<path d="M460.59999999999997,128H490.2M466.2,122.4V133.60000000000002" stroke="#555" stroke-width="0.9"/></g>
<text x="476.0" y="126" font-size="5" text-anchor="start" fill="#333" textLength="12" lengthAdjust="spacingAndGlyphs" >118.60</text>
<g><circle cx="523.2" cy="121" r="3.8" stroke="#111" stroke-width="1.3" fill="#fff"/>
<path d="M523.2,121V117.2A3.8,3.8 0 0 1 527.0,121Z M523.2,121V124.8A3.8,3.8 0 0 1 519.4000000000001,121Z" fill="#111"/>
<path d="M517.6000000000001,121H547.2M523.2,115.4V126.6" stroke="#555" stroke-width="0.9"/></g>
<text x="533.0" y="119" font-size="5" text-anchor="start" fill="#333" textLength="12" lengthAdjust="spacingAndGlyphs" >118.60</text>
<g><circle cx="503.4" cy="276.2" r="3.8" stroke="#111" stroke-width="1.3" fill="#fff"/>
<path d="M503.4,276.2V272.4A3.8,3.8 0 0 1 507.2,276.2Z M503.4,276.2V280.0A3.8,3.8 0 0 1 499.59999999999997,276.2Z" fill="#111"/>
<path d="M497.79999999999995,276.2H527.4M503.4,270.59999999999997V281.8" stroke="#555" stroke-width="0.9"/></g>
<text x="513.2" y="274.2" font-size="5" text-anchor="start" fill="#333" textLength="12" lengthAdjust="spacingAndGlyphs" >115.20</text>
<g><circle cx="414.8" cy="338.7" r="3.8" stroke="#111" stroke-width="1.3" fill="#fff"/>
<path d="M414.8,338.7V334.9A3.8,3.8 0 0 1 418.6,338.7Z M414.8,338.7V342.5A3.8,3.8 0 0 1 411.0,338.7Z" fill="#111"/>
<path d="M409.2,338.7H438.8M414.8,333.09999999999997V344.3" stroke="#555" stroke-width="0.9"/></g>
<text x="424.6" y="336.7" font-size="5" text-anchor="start" fill="#333" textLength="12" lengthAdjust="spacingAndGlyphs" >115.00</text>
<g><circle cx="192" cy="347.5" r="3.8" stroke="#111" stroke-width="1.3" fill="#fff"/>
<path d="M192,347.5V343.7A3.8,3.8 0 0 1 195.8,347.5Z M192,347.5V351.3A3.8,3.8 0 0 1 188.2,347.5Z" fill="#111"/>
<path d="M186.39999999999998,347.5H216M192,341.9V353.1" stroke="#555" stroke-width="0.9"/></g>
<text x="201.8" y="345.5" font-size="5" text-anchor="start" fill="#333" textLength="12" lengthAdjust="spacingAndGlyphs" >115.00</text>
<g><circle cx="573.6" cy="331.4" r="3.8" stroke="#111" stroke-width="1.3" fill="#fff"/>
<path d="M573.6,331.4V327.59999999999997A3.8,3.8 0 0 1 577.4,331.4Z M573.6,331.4V335.2A3.8,3.8 0 0 1 569.8000000000001,331.4Z" fill="#111"/>
<path d="M568.0000000000001,331.4H597.6M573.6,325.79999999999995V337.0" stroke="#555" stroke-width="0.9"/></g>
<text x="583.4" y="329.4" font-size="5" text-anchor="start" fill="#333" textLength="12" lengthAdjust="spacingAndGlyphs" >115.00</text>
<rect x="314.2" y="112.3" width="26.3" height="16.5" rx="0" stroke="#222" stroke-width="1.2" fill="none" />
<rect x="314.2" y="131.5" width="26.3" height="17.1" rx="0" stroke="#222" stroke-width="1.2" fill="none" />
<rect x="342.5" y="112.3" width="12.2" height="36.3" rx="0" stroke="#222" stroke-width="1.2" fill="none" />
<rect x="357" y="112.3" width="19.2" height="36.3" rx="0" stroke="#222" stroke-width="1.2" fill="none" />
<rect x="392.6" y="112.3" width="26.3" height="16.5" rx="0" stroke="#222" stroke-width="1.2" fill="none" />
<rect x="392.6" y="131.5" width="26.3" height="17.1" rx="0" stroke="#222" stroke-width="1.2" fill="none" />
<rect x="420.9" y="112.3" width="12.2" height="36.3" rx="0" stroke="#222" stroke-width="1.2" fill="none" />
<rect x="435.4" y="112.3" width="19.2" height="36.3" rx="0" stroke="#222" stroke-width="1.2" fill="none" />
<rect x="314.2" y="167.1" width="26.3" height="16.5" rx="0" stroke="#222" stroke-width="1.2" fill="none" />
<rect x="314.2" y="186.29999999999998" width="26.3" height="17.1" rx="0" stroke="#222" stroke-width="1.2" fill="none" />
<rect x="342.5" y="167.1" width="12.2" height="36.3" rx="0" stroke="#222" stroke-width="1.2" fill="none" />
<rect x="357" y="167.1" width="19.2" height="36.3" rx="0" stroke="#222" stroke-width="1.2" fill="none" />
<rect x="392.6" y="167.1" width="26.3" height="16.5" rx="0" stroke="#222" stroke-width="1.2" fill="none" />
<rect x="392.6" y="186.29999999999998" width="26.3" height="17.1" rx="0" stroke="#222" stroke-width="1.2" fill="none" />
<rect x="420.9" y="167.1" width="12.2" height="36.3" rx="0" stroke="#222" stroke-width="1.2" fill="none" />
<rect x="435.4" y="167.1" width="19.2" height="36.3" rx="0" stroke="#222" stroke-width="1.2" fill="none" />
<rect x="314.2" y="222.2" width="26.3" height="16.5" rx="0" stroke="#222" stroke-width="1.2" fill="none" />
<rect x="314.2" y="241.39999999999998" width="26.3" height="17.1" rx="0" stroke="#222" stroke-width="1.2" fill="none" />
<rect x="342.5" y="222.2" width="12.2" height="36.3" rx="0" stroke="#222" stroke-width="1.2" fill="none" />
<rect x="357" y="222.2" width="19.2" height="36.3" rx="0" stroke="#222" stroke-width="1.2" fill="none" />
<rect x="392.6" y="222.2" width="26.3" height="16.5" rx="0" stroke="#222" stroke-width="1.2" fill="none" />
<rect x="392.6" y="241.39999999999998" width="26.3" height="17.1" rx="0" stroke="#222" stroke-width="1.2" fill="none" />
<rect x="420.9" y="222.2" width="12.2" height="36.3" rx="0" stroke="#222" stroke-width="1.2" fill="none" />
<rect x="435.4" y="222.2" width="19.2" height="36.3" rx="0" stroke="#222" stroke-width="1.2" fill="none" />
<rect x="314.2" y="277.2" width="26.3" height="16.5" rx="0" stroke="#222" stroke-width="1.2" fill="none" />
<rect x="314.2" y="296.4" width="26.3" height="17.1" rx="0" stroke="#222" stroke-width="1.2" fill="none" />
<rect x="342.5" y="277.2" width="12.2" height="36.3" rx="0" stroke="#222" stroke-width="1.2" fill="none" />
<rect x="357" y="277.2" width="19.2" height="36.3" rx="0" stroke="#222" stroke-width="1.2" fill="none" />
<rect x="392.6" y="277.2" width="26.3" height="16.5" rx="0" stroke="#222" stroke-width="1.2" fill="none" />
<rect x="392.6" y="296.4" width="26.3" height="17.1" rx="0" stroke="#222" stroke-width="1.2" fill="none" />
<rect x="420.9" y="277.2" width="12.2" height="36.3" rx="0" stroke="#222" stroke-width="1.2" fill="none" />
<rect x="435.4" y="277.2" width="19.2" height="36.3" rx="0" stroke="#222" stroke-width="1.2" fill="none" />
<rect x="314.2" y="332" width="26.3" height="16.5" rx="0" stroke="#222" stroke-width="1.2" fill="none" />
<rect x="314.2" y="351.2" width="26.3" height="17.1" rx="0" stroke="#222" stroke-width="1.2" fill="none" />
<rect x="342.5" y="332" width="12.2" height="36.3" rx="0" stroke="#222" stroke-width="1.2" fill="none" />
<rect x="357" y="332" width="19.2" height="36.3" rx="0" stroke="#222" stroke-width="1.2" fill="none" />
<rect x="310.4" y="83.6" width="14.6" height="8.0" rx="1.2" stroke="#222" stroke-width="1.1" fill="none" />
<rect x="307.3" y="390.8" width="14.4" height="7.7" rx="1.2" stroke="#222" stroke-width="1.1" fill="none" />
<rect x="329.4" y="83.6" width="14.6" height="8.0" rx="1.2" stroke="#222" stroke-width="1.1" fill="none" />
<rect x="326.33000000000004" y="390.8" width="14.4" height="7.7" rx="1.2" stroke="#222" stroke-width="1.1" fill="none" />
<rect x="348.4" y="83.6" width="14.6" height="8.0" rx="1.2" stroke="#222" stroke-width="1.1" fill="none" />
<rect x="345.36" y="390.8" width="14.4" height="7.7" rx="1.2" stroke="#222" stroke-width="1.1" fill="none" />
<rect x="367.4" y="83.6" width="14.6" height="8.0" rx="1.2" stroke="#222" stroke-width="1.1" fill="none" />
<rect x="364.39" y="390.8" width="14.4" height="7.7" rx="1.2" stroke="#222" stroke-width="1.1" fill="none" />
<rect x="386.4" y="83.6" width="14.6" height="8.0" rx="1.2" stroke="#222" stroke-width="1.1" fill="none" />
<rect x="383.42" y="390.8" width="14.4" height="7.7" rx="1.2" stroke="#222" stroke-width="1.1" fill="none" />
<rect x="405.4" y="83.6" width="14.6" height="8.0" rx="1.2" stroke="#222" stroke-width="1.1" fill="none" />
<rect x="402.45000000000005" y="390.8" width="14.4" height="7.7" rx="1.2" stroke="#222" stroke-width="1.1" fill="none" />
<rect x="424.4" y="83.6" width="14.6" height="8.0" rx="1.2" stroke="#222" stroke-width="1.1" fill="none" />
<rect x="421.48" y="390.8" width="14.4" height="7.7" rx="1.2" stroke="#222" stroke-width="1.1" fill="none" />
<rect x="443.4" y="83.6" width="14.6" height="8.0" rx="1.2" stroke="#222" stroke-width="1.1" fill="none" />
<rect x="440.51" y="390.8" width="14.4" height="7.7" rx="1.2" stroke="#222" stroke-width="1.1" fill="none" />
<rect x="462.4" y="83.6" width="14.6" height="8.0" rx="1.2" stroke="#222" stroke-width="1.1" fill="none" />
<rect x="459.54" y="390.8" width="14.4" height="7.7" rx="1.2" stroke="#222" stroke-width="1.1" fill="none" />
<text x="376" y="62.6" font-size="8.4" text-anchor="start" fill="#111" textLength="57" lengthAdjust="spacingAndGlyphs" stroke="#111" stroke-width="0.3" >A/C COMPRESSORS</text>
<polyline points="374,65.6 433.8,65.6 433.8,86" stroke="#222" stroke-width="0.9" fill="none" />
<text x="376" y="424.9" font-size="8.4" text-anchor="start" fill="#111" textLength="57" lengthAdjust="spacingAndGlyphs" stroke="#111" stroke-width="0.3" >A/C COMPRESSORS</text>
<polyline points="374,416 434,416 434,394" stroke="#222" stroke-width="0.9" fill="none" />
<text x="385" y="154" font-size="7.4" text-anchor="start" fill="#222" textLength="18" lengthAdjust="spacingAndGlyphs" stroke="#222" stroke-width="0.2" >Ηλιακα</text>
<text x="385" y="162" font-size="7.4" text-anchor="start" fill="#222" textLength="40" lengthAdjust="spacingAndGlyphs" stroke="#222" stroke-width="0.2" >χαμηλου τυπου</text>
<polyline points="381.4,155.2 428.6,155.2 428.6,183.6" stroke="#222" stroke-width="0.9" fill="none" />
<rect x="578.3" y="89.2" width="26.0" height="16.3" rx="0" stroke="#222" stroke-width="1.2" fill="none" />
<rect x="606.3" y="89.2" width="26.1" height="16.3" rx="0" stroke="#222" stroke-width="1.2" fill="none" />
<rect x="634.1" y="89.2" width="26.2" height="16.3" rx="0" stroke="#222" stroke-width="1.2" fill="none" />
<rect x="578.3" y="108.25" width="26.0" height="16.3" rx="0" stroke="#222" stroke-width="1.2" fill="none" />
<rect x="606.3" y="108.25" width="26.1" height="16.3" rx="0" stroke="#222" stroke-width="1.2" fill="none" />
<rect x="634.1" y="108.25" width="26.2" height="16.3" rx="0" stroke="#222" stroke-width="1.2" fill="none" />
<rect x="578.3" y="127.30000000000001" width="26.0" height="16.3" rx="0" stroke="#222" stroke-width="1.2" fill="none" />
<rect x="606.3" y="127.30000000000001" width="26.1" height="16.3" rx="0" stroke="#222" stroke-width="1.2" fill="none" />
<rect x="634.1" y="127.30000000000001" width="26.2" height="16.3" rx="0" stroke="#222" stroke-width="1.2" fill="none" />
<rect x="578.3" y="146.35000000000002" width="26.0" height="16.3" rx="0" stroke="#222" stroke-width="1.2" fill="none" />
<rect x="606.3" y="146.35000000000002" width="26.1" height="16.3" rx="0" stroke="#222" stroke-width="1.2" fill="none" />
<rect x="634.1" y="146.35000000000002" width="26.2" height="16.3" rx="0" stroke="#222" stroke-width="1.2" fill="none" />
<rect x="578.3" y="165.4" width="26.0" height="16.3" rx="0" stroke="#222" stroke-width="1.2" fill="none" />
<rect x="606.3" y="165.4" width="26.1" height="16.3" rx="0" stroke="#222" stroke-width="1.2" fill="none" />
<rect x="634.1" y="165.4" width="26.2" height="16.3" rx="0" stroke="#222" stroke-width="1.2" fill="none" />
<rect x="578.3" y="184.45" width="26.0" height="16.3" rx="0" stroke="#222" stroke-width="1.2" fill="none" />
<rect x="606.3" y="184.45" width="26.1" height="16.3" rx="0" stroke="#222" stroke-width="1.2" fill="none" />
<rect x="634.1" y="184.45" width="26.2" height="16.3" rx="0" stroke="#222" stroke-width="1.2" fill="none" />
<rect x="578.3" y="203.5" width="26.0" height="16.3" rx="0" stroke="#222" stroke-width="1.2" fill="none" />
<rect x="606.3" y="203.5" width="26.1" height="16.3" rx="0" stroke="#222" stroke-width="1.2" fill="none" />
<rect x="634.1" y="203.5" width="26.2" height="16.3" rx="0" stroke="#222" stroke-width="1.2" fill="none" />
<rect x="578.3" y="222.55" width="26.0" height="16.3" rx="0" stroke="#222" stroke-width="1.2" fill="none" />
<rect x="606.3" y="222.55" width="26.1" height="16.3" rx="0" stroke="#222" stroke-width="1.2" fill="none" />
<rect x="634.1" y="222.55" width="26.2" height="16.3" rx="0" stroke="#222" stroke-width="1.2" fill="none" />
<rect x="684.2" y="90.6" width="7.5" height="14.2" rx="0" stroke="#222" stroke-width="1.1" fill="none" />
<rect x="684.2" y="109.67999999999999" width="7.5" height="14.2" rx="0" stroke="#222" stroke-width="1.1" fill="none" />
<rect x="684.2" y="128.76" width="7.5" height="14.2" rx="0" stroke="#222" stroke-width="1.1" fill="none" />
<rect x="684.2" y="147.83999999999997" width="7.5" height="14.2" rx="0" stroke="#222" stroke-width="1.1" fill="none" />
<rect x="684.2" y="166.92" width="7.5" height="14.2" rx="0" stroke="#222" stroke-width="1.1" fill="none" />
<rect x="684.2" y="186.0" width="7.5" height="14.2" rx="0" stroke="#222" stroke-width="1.1" fill="none" />
<rect x="684.2" y="205.07999999999998" width="7.5" height="14.2" rx="0" stroke="#222" stroke-width="1.1" fill="none" />
<rect x="684.2" y="224.16" width="7.5" height="14.2" rx="0" stroke="#222" stroke-width="1.1" fill="none" />
<rect x="684.2" y="243.23999999999998" width="7.5" height="14.2" rx="0" stroke="#222" stroke-width="1.1" fill="none" />
<text x="612" y="73.2" font-size="7.4" text-anchor="start" fill="#222" textLength="38" lengthAdjust="spacingAndGlyphs" stroke="#222" stroke-width="0.2" >Φωτοβολταικα</text>
<polyline points="610.3,76.6 658.3,76.6 658.3,99.4" stroke="#222" stroke-width="0.9" fill="none" />
<text x="705.6" y="97" font-size="8.4" text-anchor="start" fill="#111" textLength="57.6" lengthAdjust="spacingAndGlyphs" stroke="#111" stroke-width="0.3" >A/C COMPRESSORS</text>
<polyline points="691.7,100 763.7,100" stroke="#222" stroke-width="0.9" fill="none" />
<polyline points="697.7,171 721.8,171 721.8,270.4" stroke="#8a8a8a" stroke-width="1" fill="none" />
<polyline points="697.7,175 717.7,175 717.7,270.4" stroke="#8a8a8a" stroke-width="1" fill="none" />
<rect x="477" y="159" width="53" height="6.6" fill="#111"/>
<rect x="477" y="159" width="6.6" height="55" fill="#111"/>
<rect x="523.6" y="159" width="6.4" height="55" fill="#111"/>
<text x="485" y="190.2" font-size="8.6" text-anchor="start" fill="#111" textLength="36" lengthAdjust="spacingAndGlyphs" stroke="#111" stroke-width="0.2" >LIFT ENGINE</text>
<rect x="483.6" y="208.4" width="12.4" height="5.6" rx="0" stroke="#222" stroke-width="0.9" fill="none" />
<rect x="517" y="208.4" width="6.6" height="5.6" rx="0" stroke="#222" stroke-width="0.9" fill="none" />
<line x1="522.4" y1="165.6" x2="522.4" y2="208" stroke="#222" stroke-width="0.8" />
<rect x="529.6" y="159" width="18.8" height="85" rx="0" stroke="#222" stroke-width="1" fill="none" />
<line x1="529.6" y1="165" x2="548.4" y2="165" stroke="#222" stroke-width="0.9" />
<line x1="542.4" y1="165" x2="542.4" y2="238" stroke="#222" stroke-width="0.9" />
<rect x="530" y="165" width="12.4" height="17" rx="0" stroke="#222" stroke-width="0.9" fill="none" />
<path d="M531,166L536,172.5M541,166L536,172.5M531,181L536,174.5M541,181L536,174.5" stroke="#222" stroke-width="0.9"/>
<rect x="530" y="187" width="12.4" height="50" rx="0" stroke="#222" stroke-width="0.9" fill="none" />
<path d="M531.00,188L532.71,196M541.50,188L539.79,196M534.21,203L535.39,208.5M538.29,203L537.11,208.5M537.11,216.5L538.29,222M535.39,216.5L534.21,222M539.79,229L541.50,237M532.71,229L531.00,237" stroke="#222" stroke-width="0.9" fill="none"/>
<line x1="477" y1="214.1" x2="530" y2="214.1" stroke="#222" stroke-width="1" />
<line x1="477.5" y1="214" x2="477.5" y2="238" stroke="#222" stroke-width="1" />
<line x1="484" y1="214" x2="484" y2="238" stroke="#222" stroke-width="1" />
<line x1="491.5" y1="214" x2="491.5" y2="238" stroke="#222" stroke-width="1" />
<line x1="477" y1="226" x2="491.5" y2="226" stroke="#222" stroke-width="1" />
<path d="M486,221L491,226L486,231" stroke="#222" stroke-width="1" fill="none"/>
<path d="M496,214A19,17 0 0 0 515.5,231" stroke="#222" stroke-width="1" fill="none"/>
<line x1="516.4" y1="211" x2="516.4" y2="231" stroke="#222" stroke-width="1.4" />
<line x1="477" y1="238" x2="548" y2="238" stroke="#222" stroke-width="0.9" />
<line x1="477" y1="244" x2="548" y2="244" stroke="#222" stroke-width="0.9" />
<rect x="477" y="238" width="6.6" height="6" fill="#111"/>
<rect x="522.4" y="238" width="26.0" height="6" fill="#111"/>
<line x1="477.6" y1="244" x2="477.6" y2="397.5" stroke="#222" stroke-width="1" />
<line x1="483.1" y1="270.3" x2="483.1" y2="350" stroke="#222" stroke-width="1" />
<line x1="477.6" y1="270.3" x2="483.6" y2="270.3" stroke="#222" stroke-width="1" />
<line x1="542.5" y1="270.3" x2="548.5" y2="270.3" stroke="#222" stroke-width="1" />
<line x1="543" y1="270.3" x2="543" y2="350" stroke="#222" stroke-width="1" />
<path d="M457.6,247.5A20,22.5 0 0 0 477.6,270" stroke="#222" stroke-width="1" fill="none"/>
<rect x="457" y="246.8" width="21" height="2.4" fill="#999"/>
<path d="M548,247.5A20.5,20.5 0 0 1 568.5,268" stroke="#222" stroke-width="1" fill="none"/>
<rect x="545.6" y="267.6" width="22.4" height="2.4" fill="#999"/>
<rect x="477.6" y="350" width="5.4" height="47.5" fill="#111"/>
<rect x="542.4" y="351" width="5.6" height="46.5" fill="#111"/>
<rect x="477.6" y="392" width="11.4" height="5.5" fill="#111"/>
<rect x="536" y="392" width="12" height="5.5" fill="#111"/>
<rect x="500" y="392.5" width="36" height="4.5" rx="0" stroke="#333" stroke-width="0.9" fill="#aaa" />
<rect x="483" y="315.4" width="3" height="76.6" fill="#777"/>
<rect x="539.2" y="315.4" width="3.2" height="76.6" fill="#777"/>
<rect x="483" y="389" width="59.4" height="3" fill="#777"/>
<line x1="483" y1="315.4" x2="542.4" y2="315.4" stroke="#222" stroke-width="1" />
<line x1="486" y1="315.4" x2="539.2" y2="315.4" stroke="#222" stroke-width="1" />
<line x1="486" y1="322.57" x2="539.2" y2="322.57" stroke="#222" stroke-width="1" />
<line x1="486" y1="329.73999999999995" x2="539.2" y2="329.73999999999995" stroke="#222" stroke-width="1" />
<line x1="486" y1="336.90999999999997" x2="539.2" y2="336.90999999999997" stroke="#222" stroke-width="1" />
<line x1="486" y1="344.08" x2="539.2" y2="344.08" stroke="#222" stroke-width="1" />
<line x1="486" y1="351.25" x2="539.2" y2="351.25" stroke="#222" stroke-width="1" />
<line x1="486" y1="358.41999999999996" x2="539.2" y2="358.41999999999996" stroke="#222" stroke-width="1" />
<line x1="486" y1="365.59" x2="539.2" y2="365.59" stroke="#222" stroke-width="1" />
<line x1="509" y1="315.4" x2="509" y2="392" stroke="#222" stroke-width="0.9" />
<line x1="517" y1="315.4" x2="517" y2="392" stroke="#222" stroke-width="0.9" />
<rect x="510.3" y="316.5" width="5.5" height="49.1" rx="0" stroke="#222" stroke-width="0.9" fill="#999" />
<line x1="530" y1="315.4" x2="530" y2="389" stroke="#222" stroke-width="0.9" />
<line x1="540" y1="315.4" x2="540" y2="389" stroke="#222" stroke-width="0.6" />
<path d="M530,318V386H496V317M491.2,322L496,317L500.8,322" stroke="#222" stroke-width="0.9" fill="none"/>
<line x1="440" y1="397.5" x2="477.6" y2="397.5" stroke="#222" stroke-width="1" />
<line x1="440" y1="404" x2="483" y2="404" stroke="#222" stroke-width="1" />
<line x1="548.5" y1="270.4" x2="697.2" y2="270.4" stroke="#222" stroke-width="1.1" />
<line x1="548.5" y1="273.6" x2="697.2" y2="273.6" stroke="#222" stroke-width="1" />
<rect x="697.2" y="270.6" width="36.1" height="3.2" fill="#444"/>
<rect x="548.5" y="273.6" width="67.1" height="14.6" rx="0" stroke="#222" stroke-width="1" fill="#fff" />
<ellipse cx="558.3" cy="280.5" rx="6.6" ry="4.7" stroke="#111" stroke-width="1.7" fill="#fff"/>
<circle cx="558.3" cy="278.8" r="0.9" fill="#111"/>
<rect x="729.6" y="269" width="3.7" height="112" fill="#555"/>
<rect x="697" y="376.5" width="36.3" height="4.5" fill="#555"/>
<line x1="548.9" y1="379.2" x2="697" y2="379.2" stroke="#222" stroke-width="1" />
<line x1="548.9" y1="383.8" x2="697.5" y2="383.8" stroke="#555" stroke-width="1" />
<line x1="697.2" y1="379" x2="697.2" y2="384" stroke="#555" stroke-width="1" />
<line x1="548.5" y1="272.8" x2="548.5" y2="397.5" stroke="#222" stroke-width="1.1" />
<rect x="567.5" y="353.8" width="81.0" height="3.7" fill="#555"/>
<path d="M567.5,357.5V379M573.5,357.5V379M579.5,357.5V379M585.5,357.5V379M591.5,357.5V379M597.5,357.5V379M603.5,357.5V379M609.5,357.5V379M615.5,357.5V379M621.5,357.5V379M627.5,357.5V379M633.5,357.5V379M639.5,357.5V379M645.5,357.5V379" stroke="#333" stroke-width="1"/>
<rect x="645" y="353.8" width="3.5" height="25.2" fill="#666"/>
<line x1="567.5" y1="379" x2="648.5" y2="379" stroke="#222" stroke-width="1" />
<path d="M548.9,366.4L567.6,356.8L558,378.4M548.9,356.8H567.6M553,366L561,359" stroke="#333" stroke-width="0.8" fill="none"/>
<rect x="553.5" y="344.5" width="8.0" height="7.0" rx="0" stroke="#222" stroke-width="1" fill="#fff" />
<text x="557.5" y="350.3" font-size="5.5" text-anchor="middle" fill="#222" textLength="6" lengthAdjust="spacingAndGlyphs" >2.7</text>
<line x1="465.5" y1="157" x2="465.5" y2="400" stroke="#222" stroke-width="1" />
<path d="M462.8,154.3L468.2,159.7" stroke="#111" stroke-width="1"/>
<path d="M462.8,211.3L468.2,216.7" stroke="#111" stroke-width="1"/>
<path d="M462.8,235.3L468.2,240.7" stroke="#111" stroke-width="1"/>
<path d="M462.8,241.3L468.2,246.7" stroke="#111" stroke-width="1"/>
<path d="M462.8,265.3L468.2,270.7" stroke="#111" stroke-width="1"/>
<path d="M462.8,397.3L468.2,402.7" stroke="#111" stroke-width="1"/>
<text x="466" y="189" font-size="6.2" text-anchor="middle" fill="#fff" textLength="10" lengthAdjust="spacingAndGlyphs" style="paint-order:stroke" stroke="#fff" stroke-width="2">2.30</text>
<text x="466" y="189" font-size="6.2" text-anchor="middle" fill="#222" textLength="10" lengthAdjust="spacingAndGlyphs" stroke="#222" stroke-width="0.2" >2.30</text>
<text x="466" y="228.5" font-size="6.2" text-anchor="middle" fill="#fff" textLength="10" lengthAdjust="spacingAndGlyphs" style="paint-order:stroke" stroke="#fff" stroke-width="2">1.00</text>
<text x="466" y="228.5" font-size="6.2" text-anchor="middle" fill="#222" textLength="10" lengthAdjust="spacingAndGlyphs" stroke="#222" stroke-width="0.2" >1.00</text>
<text x="452.6" y="244.5" font-size="6.2" text-anchor="middle" fill="#222" textLength="9.5" lengthAdjust="spacingAndGlyphs" >0.25</text>
<text x="466" y="262" font-size="6.2" text-anchor="middle" fill="#fff" textLength="10" lengthAdjust="spacingAndGlyphs" style="paint-order:stroke" stroke="#fff" stroke-width="2">1.00</text>
<text x="466" y="262" font-size="6.2" text-anchor="middle" fill="#222" textLength="10" lengthAdjust="spacingAndGlyphs" stroke="#222" stroke-width="0.2" >1.00</text>
<text x="466" y="337" font-size="6.2" text-anchor="middle" fill="#fff" textLength="10" lengthAdjust="spacingAndGlyphs" style="paint-order:stroke" stroke="#fff" stroke-width="2">5.35</text>
<text x="466" y="337" font-size="6.2" text-anchor="middle" fill="#222" textLength="10" lengthAdjust="spacingAndGlyphs" stroke="#222" stroke-width="0.2" >5.35</text>
<line x1="475.3" y1="143.5" x2="551" y2="143.5" stroke="#222" stroke-width="1" />
<path d="M474,146.5L480,140.5" stroke="#111" stroke-width="1"/>
<path d="M546,146.5L552,140.5" stroke="#111" stroke-width="1"/>
<text x="512.7" y="146" font-size="6.2" text-anchor="middle" fill="#fff" textLength="10" lengthAdjust="spacingAndGlyphs" style="paint-order:stroke" stroke="#fff" stroke-width="2">3.00</text>
<text x="512.7" y="146" font-size="6.2" text-anchor="middle" fill="#222" textLength="10" lengthAdjust="spacingAndGlyphs" stroke="#222" stroke-width="0.2" >3.00</text>
<line x1="564.5" y1="155" x2="564.5" y2="272" stroke="#222" stroke-width="1" />
<path d="M561.8,156.3L567.2,161.7" stroke="#111" stroke-width="1"/>
<path d="M561.8,162.3L567.2,167.7" stroke="#111" stroke-width="1"/>
<path d="M561.8,235.3L567.2,240.7" stroke="#111" stroke-width="1"/>
<path d="M561.8,241.3L567.2,246.7" stroke="#111" stroke-width="1"/>
<path d="M561.8,265.3L567.2,270.7" stroke="#111" stroke-width="1"/>
<text x="564.5" y="164.5" font-size="6.2" text-anchor="middle" fill="#222" textLength="10" lengthAdjust="spacingAndGlyphs" >0.25</text>
<text x="565" y="204" font-size="6.2" text-anchor="middle" fill="#fff" textLength="10" lengthAdjust="spacingAndGlyphs" style="paint-order:stroke" stroke="#fff" stroke-width="2">3.05</text>
<text x="565" y="204" font-size="6.2" text-anchor="middle" fill="#222" textLength="10" lengthAdjust="spacingAndGlyphs" stroke="#222" stroke-width="0.2" >3.05</text>
<text x="564.5" y="244.2" font-size="6.2" text-anchor="middle" fill="#222" textLength="10" lengthAdjust="spacingAndGlyphs" >0.25</text>
<text x="565" y="262" font-size="6.2" text-anchor="middle" fill="#fff" textLength="10" lengthAdjust="spacingAndGlyphs" style="paint-order:stroke" stroke="#fff" stroke-width="2">1.00</text>
<text x="565" y="262" font-size="6.2" text-anchor="middle" fill="#222" textLength="10" lengthAdjust="spacingAndGlyphs" stroke="#222" stroke-width="0.2" >1.00</text>
<line x1="185.5" y1="141" x2="185.5" y2="167" stroke="#222" stroke-width="0.9" />
<path d="M182.60000000000002,141.8L188.0,147.2" stroke="#111" stroke-width="1"/>
<path d="M182.60000000000002,161.10000000000002L188.0,166.5" stroke="#111" stroke-width="1"/>
<text x="185.3" y="157" font-size="6" text-anchor="middle" fill="#fff" textLength="9" lengthAdjust="spacingAndGlyphs" style="paint-order:stroke" stroke="#fff" stroke-width="1.6">0.85</text>
<text x="185.3" y="157" font-size="6" text-anchor="middle" fill="#222" textLength="9" lengthAdjust="spacingAndGlyphs" stroke="#222" stroke-width="0.2" >0.85</text>
<line x1="184.8" y1="314" x2="184.8" y2="341" stroke="#222" stroke-width="0.9" />
<path d="M181.8,313L187.8,319" stroke="#111" stroke-width="1"/>
<path d="M181.8,336.6L187.8,342.6" stroke="#111" stroke-width="1"/>
<text x="186" y="330" font-size="6" text-anchor="middle" fill="#fff" textLength="10" lengthAdjust="spacingAndGlyphs" style="paint-order:stroke" stroke="#fff" stroke-width="2">0.85</text>
<text x="186" y="330" font-size="6" text-anchor="middle" fill="#222" textLength="10" lengthAdjust="spacingAndGlyphs" stroke="#222" stroke-width="0.2" >0.85</text>
<line x1="472" y1="416.5" x2="478" y2="416.5" stroke="#222" stroke-width="1" />
<line x1="499" y1="416.5" x2="512.5" y2="416.5" stroke="#222" stroke-width="1" />
<line x1="525.5" y1="416.5" x2="548" y2="416.5" stroke="#222" stroke-width="1" />
<path d="M472.7,419.1L478.3,413.5" stroke="#111" stroke-width="1"/>
<path d="M496.7,419.1L502.3,413.5" stroke="#111" stroke-width="1"/>
<path d="M535.2,419.1L540.8,413.5" stroke="#111" stroke-width="1"/>
<path d="M546.2,419.1L551.8,413.5" stroke="#111" stroke-width="1"/>
<text x="483" y="418.6" font-size="6.2" text-anchor="middle" fill="#222" textLength="9" lengthAdjust="spacingAndGlyphs" >1.00</text>
<text x="518.5" y="418.6" font-size="6.2" text-anchor="middle" fill="#222" textLength="9" lengthAdjust="spacingAndGlyphs" >1.50</text>
<text x="543" y="418.6" font-size="6.2" text-anchor="middle" fill="#222" textLength="9" lengthAdjust="spacingAndGlyphs" >4.10</text>
<line x1="546" y1="313.5" x2="567.5" y2="313.5" stroke="#222" stroke-width="0.9" />
<path d="M546.2,315.8L550.8,311.2" stroke="#111" stroke-width="1"/>
<path d="M562.2,315.8L566.8,311.2" stroke="#111" stroke-width="1"/>
<text x="555.5" y="316" font-size="6" text-anchor="middle" fill="#222" textLength="9" lengthAdjust="spacingAndGlyphs" >0.60</text>
<line x1="548.5" y1="389.5" x2="647" y2="389.5" stroke="#222" stroke-width="1" />
<path d="M546.8,392.59999999999997L553.2,386.2" stroke="#111" stroke-width="1"/>
<path d="M641.8,392.59999999999997L648.2,386.2" stroke="#111" stroke-width="1"/>
<text x="597" y="392" font-size="6.4" text-anchor="middle" fill="#fff" textLength="10" lengthAdjust="spacingAndGlyphs" style="paint-order:stroke" stroke="#fff" stroke-width="2">4.05</text>
<text x="597" y="392" font-size="6.4" text-anchor="middle" fill="#222" textLength="10" lengthAdjust="spacingAndGlyphs" stroke="#222" stroke-width="0.2" >4.05</text>
<line x1="660.5" y1="268" x2="660.5" y2="398" stroke="#222" stroke-width="1" />
<path d="M657.4,267L663.4,273" stroke="#111" stroke-width="1"/>
<path d="M657.4,393L663.4,399" stroke="#111" stroke-width="1"/>
<text x="660.4" y="337" font-size="6.2" text-anchor="middle" fill="#fff" textLength="10" lengthAdjust="spacingAndGlyphs" style="paint-order:stroke" stroke="#fff" stroke-width="2">5.35</text>
<text x="660.4" y="337" font-size="6.2" text-anchor="middle" fill="#222" textLength="10" lengthAdjust="spacingAndGlyphs" stroke="#222" stroke-width="0.2" >5.35</text>
<line x1="633.5" y1="353" x2="633.5" y2="378" stroke="#222" stroke-width="0.9" />
<path d="M631.0,352.5L636.0,357.5" stroke="#111" stroke-width="1"/>
<path d="M631.0,373.5L636.0,378.5" stroke="#111" stroke-width="1"/>
<text x="634.5" y="368" font-size="5.8" text-anchor="middle" fill="#fff" textLength="9" lengthAdjust="spacingAndGlyphs" style="paint-order:stroke" stroke="#fff" stroke-width="2">0.90</text>
<text x="634.5" y="368" font-size="5.8" text-anchor="middle" fill="#222" textLength="9" lengthAdjust="spacingAndGlyphs" stroke="#222" stroke-width="0.2" >0.90</text>
<line x1="74.2" y1="247.4" x2="785" y2="247.4" stroke="#111" stroke-width="1" stroke-dasharray="17 1.6 1 1.6" stroke-dashoffset="6.6"/>
<polygon points="74.2,249.2 88.7,249.2 81.5,256.3" stroke="none" stroke-width="0" fill="#111" />
<text x="81.6" y="266.7" font-size="11.5" text-anchor="middle" fill="#111" textLength="5.2" lengthAdjust="spacingAndGlyphs" >A</text>
<polygon points="770.5,249.2 785,249.2 777.8,256.4" stroke="none" stroke-width="0" fill="#111" />
<text x="778.6" y="266.7" font-size="11.5" text-anchor="middle" fill="#111" textLength="7.2" lengthAdjust="spacingAndGlyphs" >A'</text>
<line x1="519.3" y1="36" x2="519.3" y2="465" stroke="#111" stroke-width="1" stroke-dasharray="17 1.6 1 1.6"/>
<line x1="519.3" y1="36" x2="519.3" y2="56" stroke="#111" stroke-width="1" />
<polygon points="519.3,36 519.3,50.6 511.2,43.3" stroke="none" stroke-width="0" fill="#111" />
<text x="504" y="47.4" font-size="11" text-anchor="middle" fill="#111" textLength="6.4" lengthAdjust="spacingAndGlyphs" >B'</text>
<polygon points="519.3,449.4 519.3,464.6 511.3,457" stroke="none" stroke-width="0" fill="#111" />
<text x="503.7" y="460.8" font-size="10.2" text-anchor="middle" fill="#111" textLength="5.8" lengthAdjust="spacingAndGlyphs" >B</text>
<rect x="816" y="42" width="1" height="27" fill="#555"/>
<rect x="951" y="42" width="1" height="27" fill="#555"/>
<rect x="816" y="69" width="1" height="228" fill="#3a3a3a"/>
<rect x="817" y="69" width="1" height="227" fill="#858585"/>
<rect x="818" y="69" width="1" height="226" fill="#3a3a3a"/>
<rect x="949" y="69" width="1" height="226" fill="#333"/>
<rect x="950" y="69" width="1" height="227" fill="#888"/>
<rect x="951" y="69" width="1" height="228" fill="#3a3a3a"/>
<rect x="818" y="295" width="132" height="1" fill="#333"/>
<rect x="817" y="296" width="134" height="1" fill="#8a8a8a"/>
<rect x="816" y="297" width="136" height="1" fill="#9a9a9a"/>
<rect x="816" y="298" width="1" height="63" fill="#555"/>
<rect x="951" y="298" width="1" height="63" fill="#555"/>
<defs><linearGradient id="cg" x1="0" y1="0" x2="0" y2="1"><stop offset="0" stop-color="#8a5320"/><stop offset="0.55" stop-color="#b07a48"/><stop offset="1" stop-color="#f3e9df"/></linearGradient></defs>
<circle cx="856.4" cy="234.2" r="14" stroke="url(#cg)" stroke-width="4.5" fill="#fff"/>
<circle cx="856.4" cy="234.2" r="16.2" stroke="#222" stroke-width="0.8" fill="none"/>
<circle cx="856.4" cy="234.2" r="11.6" stroke="#222" stroke-width="0.8" fill="none"/>
<path d="M856.4,234.2L859.93,244.83L859.54,237.83Z" fill="#111"/>
<path d="M856.4,234.2L859.93,244.83L856.06,238.99Z" fill="#fff" stroke="#111" stroke-width="0.7"/>
<path d="M856.4,234.2L851.38,244.21L856.06,238.99Z" fill="#111"/>
<path d="M856.4,234.2L851.38,244.21L852.77,237.34Z" fill="#fff" stroke="#111" stroke-width="0.7"/>
<path d="M856.4,234.2L845.77,237.73L852.77,237.34Z" fill="#111"/>
<path d="M856.4,234.2L845.77,237.73L851.61,233.86Z" fill="#fff" stroke="#111" stroke-width="0.7"/>
<path d="M856.4,234.2L846.39,229.18L851.61,233.86Z" fill="#111"/>
<path d="M856.4,234.2L846.39,229.18L853.26,230.57Z" fill="#fff" stroke="#111" stroke-width="0.7"/>
<path d="M856.4,234.2L852.87,223.57L853.26,230.57Z" fill="#111"/>
<path d="M856.4,234.2L852.87,223.57L856.74,229.41Z" fill="#fff" stroke="#111" stroke-width="0.7"/>
<path d="M856.4,234.2L861.42,224.19L856.74,229.41Z" fill="#111"/>
<path d="M856.4,234.2L861.42,224.19L860.03,231.06Z" fill="#fff" stroke="#111" stroke-width="0.7"/>
<path d="M856.4,234.2L867.03,230.67L860.03,231.06Z" fill="#111"/>
<path d="M856.4,234.2L867.03,230.67L861.19,234.54Z" fill="#fff" stroke="#111" stroke-width="0.7"/>
<path d="M856.4,234.2L866.41,239.22L861.19,234.54Z" fill="#111"/>
<path d="M856.4,234.2L866.41,239.22L859.54,237.83Z" fill="#fff" stroke="#111" stroke-width="0.7"/>
<path d="M849.3,213.8L863,255M835.5,241L875,228" stroke="#111" stroke-width="1.3"/>
<text x="878.5" y="229.8" font-size="7" text-anchor="middle" fill="#111" textLength="6" lengthAdjust="spacingAndGlyphs" stroke="#111" stroke-width="0.3" transform="rotate(-20 878.5 227)">Z</text>
<g><circle cx="834.2" cy="272" r="4" stroke="#111" stroke-width="1.3" fill="#fff"/>
<path d="M834.2,272V268A4,4 0 0 1 838.2,272Z M834.2,272V276A4,4 0 0 1 830.2,272Z" fill="#111"/>
<path d="M828.4000000000001,272H858.2M834.2,266.2V277.8" stroke="#555" stroke-width="0.9"/></g>
<text x="844.2" y="270" font-size="5" text-anchor="start" fill="#333" ></text>
<text x="843" y="269" font-size="4.8" text-anchor="start" fill="#222" textLength="9" lengthAdjust="spacingAndGlyphs" >±0.00</text>
<text x="861.3" y="273" font-size="6.8" text-anchor="start" fill="#1a1a1a" textLength="65" lengthAdjust="spacingAndGlyphs" stroke="#1a1a1a" stroke-width="0.1" >ΠΡΟΤΕΙΝΟΜΕΝΑ ΥΨΟΜΕΤΡΑ</text>
<g><circle cx="834.2" cy="287" r="4" stroke="#111" stroke-width="1.3" fill="#fff"/>
<path d="M828.4000000000001,287H858.2M834.2,281.2V292.8" stroke="#555" stroke-width="0.9"/></g>
<text x="844.2" y="285" font-size="5" text-anchor="start" fill="#333" ></text>
<text x="843" y="284" font-size="4.8" text-anchor="start" fill="#222" textLength="9" lengthAdjust="spacingAndGlyphs" >±0.00</text>
<text x="861.5" y="288.3" font-size="6.8" text-anchor="start" fill="#1a1a1a" textLength="57.5" lengthAdjust="spacingAndGlyphs" stroke="#1a1a1a" stroke-width="0.1" >ΥΦΙΣΤΑΜΕΝΑ ΥΨΟΜΕΤΡΑ</text>
</svg></body></html>
